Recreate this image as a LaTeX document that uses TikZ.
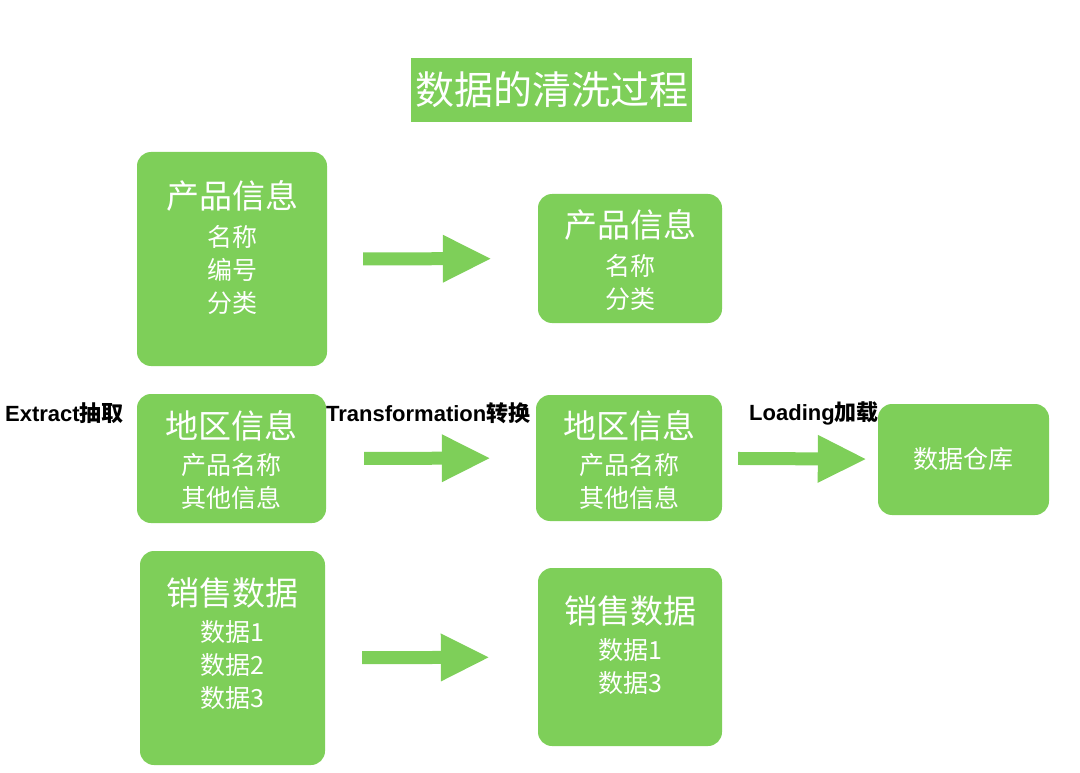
\documentclass[tikz,border=0pt]{standalone}
\usepackage{fontspec}
\setmainfont{Liberation Sans}
\newfontfamily\cjk{Noto Sans CJK SC}
\usetikzlibrary{arrows.meta}
\definecolor{boxgreen}{RGB}{126,207,89}
\newcommand{\hd}[1]{{\fontsize{33}{40}\selectfont #1}}
\tikzset{
	box/.style={fill=boxgreen, rounded corners=14pt, inner sep=0pt},
	boxtext/.style={text=white, align=center, inner sep=0pt, font=\cjk\fontsize{25}{33}\selectfont},
	bigarrow/.style={draw=boxgreen, line width=13pt, -{Triangle[length=49pt,width=44pt]}},
	stage/.style={anchor=west, inner sep=0pt, font=\bfseries\fontsize{22}{26}\selectfont}
}
\begin{document}
\begin{tikzpicture}[x=1pt,y=-1pt]
		\useasboundingbox (0,0) rectangle (1080,773);
		% title
		\node (t0) [fill=boxgreen, minimum width=281pt, minimum height=64pt, inner sep=0pt, text=white, font=\cjk\fontsize{39}{44}\selectfont] at (551.5,90) {数据的清洗过程};
		% extract
		\node (s1) [box, minimum width=190pt, minimum height=214pt, label={[boxtext, yshift=11pt]center:\hd{产品信息}\\[5pt]名称\\编号\\分类}] at (232,259) {};
		\node (s2) [box, minimum width=189pt, minimum height=129pt, label={[boxtext, yshift=-2pt]center:\hd{地区信息}\\[3pt]产品名称\\其他信息}] at (231.5,458.5) {};
		\node (s3) [box, minimum width=185pt, minimum height=214pt, label={[boxtext, yshift=14pt]center:\hd{销售数据}\\[3pt]数据1\\数据2\\数据3}] at (232.5,658) {};
		% transformation
		\node (r1) [box, minimum width=184pt, minimum height=129pt, label={[boxtext, yshift=-2pt]center:\hd{产品信息}\\[5pt]名称\\分类}] at (630,258.5) {};
		\node (r2) [box, minimum width=186pt, minimum height=126pt, label={[boxtext, yshift=-2pt]center:\hd{地区信息}\\[3pt]产品名称\\其他信息}] at (629,458) {};
		\node (r3) [box, minimum width=184pt, minimum height=178pt, label={[boxtext, yshift=12pt]center:\hd{销售数据}\\[3pt]数据1\\数据3}] at (630,657) {};
		% loading
		\node (w) [box, minimum width=171pt, minimum height=111pt, label={[boxtext]center:数据仓库}] at (963.5,459.5) {};
		\node (e) [stage] at (5,413) {Extract{\cjk\bfseries 抽取}};
		\node (f) [stage] at (326,413) {Transformation{\cjk\bfseries 转换}};
		\node (l) [stage] at (749,413) {Loading{\cjk\bfseries 加载}};
		\draw[bigarrow, shorten <=36pt, shorten >=46pt] (s1) -- (r1);
		\draw[bigarrow, shorten <=38pt, shorten >=45pt] (s2) -- (r2);
		\draw[bigarrow, shorten <=37pt, shorten >=48pt] (s3) -- (r3);
		\draw[bigarrow, shorten <=16pt, shorten >=11pt] (r2) -- (w);
		\end{tikzpicture}
\end{document}
